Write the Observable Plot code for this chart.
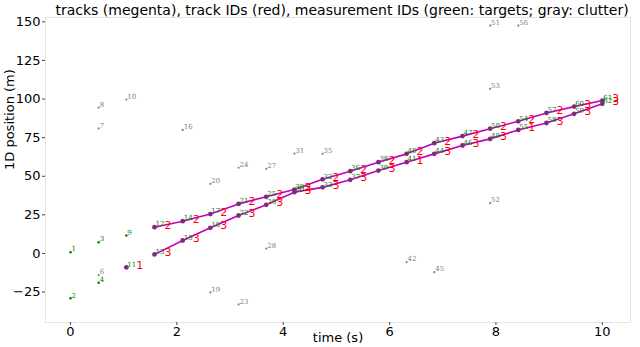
<!DOCTYPE html>
<html><head><meta charset="utf-8">
<script src="https://cdn.jsdelivr.net/npm/d3@7"></script>
<script src="https://cdn.jsdelivr.net/npm/@observablehq/plot@0.6"></script>
<style>body{margin:0;background:#fff}</style>
</head><body><div id="chart"></div>
<script>
const titleText = "tracks (megenta), track IDs (red), measurement IDs (green: targets; gray: clutter)";
const times = [0, 0.53, 1.05, 1.58, 2.11, 2.63, 3.16, 3.68, 4.21, 4.74, 5.26, 5.79, 6.32, 6.84, 7.37, 7.89, 8.42, 8.95, 9.47, 10.0];
const xTicks = [0, 2, 4, 6, 8, 10];
const yTicks = [-25, 0, 25, 50, 75, 100, 125, 150];

// tracks: step index, position, track ID label, measurement ID
const trackUpperStep = [3,4,5,6,7,8,9,10,11,12,13,14,15,16,17,18,19];
const trackUpperPos = [17, 20.9, 25.5, 32.1, 36.7, 41.4, 48.0, 53.3, 59.1, 64.5, 71.4, 76.0, 80.8, 85.6, 91.0, 95.1, 99.0];
const trackUpperIds = ["2","2","2","2","2","2","2","2","2","2","2","2","2","2","2","3","3"];
const trackUpperMeas = ["12","14","17","21","25","29","32","36","38","40","43","47","50","54","57","60","61"];

const trackLowerStep = [3,4,5,6,7,8,9,10,11,12,13,14,15,16,17,18,19];
const trackLowerPos = [-0.6, 8.4, 16.6, 24.6, 31.5, 39.7, 42.8, 47.7, 53.7, 59.1, 64.5, 69.9, 74.2, 80.0, 84.5, 90.4, 96.9];
const trackLowerIds = ["3","3","3","3","3","3","3","3","3","1","3","3","3","1","3","3","3"];
const trackLowerMeas = ["13","15","18","22","26","30","33","37","39","41","44","46","49","55","58","59","62"];

const trackSingleStep = [2];
const trackSinglePos = [-9];
const trackSingleIds = ["1"];
const trackSingleMeas = ["11"];

// other target measurements (green, not on a track)
const targetStep = [0, 0, 1, 1, 2];
const targetPos = [0.8, -29, 7.3, -19, 11.6];
const targetIds = ["1", "2", "3", "4", "9"];

// clutter (gray)
const clutterStep = [1, 1, 1, 2, 4, 5, 5, 6, 6, 7, 7, 8, 9, 12, 13, 15, 15, 15, 16];
const clutterPos = [-14, 81, 94.5, 99.7, 80, -25.2, 45.1, -33, 55.5, 54.8, 3.2, 64.7, 64.5, -5.6, -12.1, 147.6, 32.6, 106.6, 147.6];
const clutterIds = ["6", "7", "8", "10", "16", "19", "20", "23", "24", "27", "28", "31", "35", "42", "45", "51", "52", "53", "56"];

const mk = (steps, pos, ids, meas, track) => steps.map((s, i) => ({t: times[s], y: pos[i], id: ids[i], meas: meas ? meas[i] : null, track}));
const upper = mk(trackUpperStep, trackUpperPos, trackUpperIds, trackUpperMeas, "A");
const lower = mk(trackLowerStep, trackLowerPos, trackLowerIds, trackLowerMeas, "B");
const single = mk(trackSingleStep, trackSinglePos, trackSingleIds, trackSingleMeas, "C");
const tracks = [...upper, ...lower, ...single];
const targets = [...tracks.map(d => ({t: d.t, y: d.y, id: d.meas})), ...targetStep.map((s, i) => ({t: times[s], y: targetPos[i], id: targetIds[i]}))];
const clutter = clutterStep.map((s, i) => ({t: times[s], y: clutterPos[i], id: clutterIds[i]}));

const MAG = "#bf00bf", GRN = "#008000", RED = "#ff0000", GRY = "#808080";

const chart = Plot.plot({
  width: 640, height: 347,
  marginLeft: 45, marginRight: 10, marginTop: 17, marginBottom: 25,
  style: {fontFamily: "DejaVu Sans", fontSize: "13px", background: "#fff"},
  x: {domain: [-0.47, 10.53]},
  y: {domain: [-44.7, 152.8]},
  marks: [
    Plot.frame({stroke: "#e3e3e3"}),
    Plot.axisX({ticks: xTicks, tickSize: 3, tickPadding: 1, label: null, fontSize: 13, stroke: "#444"}),
    Plot.axisY({ticks: yTicks, tickSize: 3, tickPadding: 2, label: null, fontSize: 13, stroke: "#444"}),
    Plot.text([titleText], {frameAnchor: "top", dy: -12, dx: 4, fontSize: 14, fill: "#000"}),
    Plot.text(["time (s)"], {frameAnchor: "bottom", dy: 19, fontSize: 13, fill: "#000"}),
    Plot.text(["1D position (m)"], {frameAnchor: "left", dx: -36, rotate: -90, fontSize: 13, fill: "#000"}),
    Plot.line(tracks, {x: "t", y: "y", z: "track", stroke: MAG, strokeWidth: 1.6}),
    Plot.dot(tracks, {x: "t", y: "y", r: 2.4, fill: MAG, stroke: "none"}),
    Plot.dot(targets, {x: "t", y: "y", r: 1.3, fill: GRN, stroke: "none"}),
    Plot.dot(clutter, {x: "t", y: "y", r: 1.1, fill: GRY, stroke: "none"}),
    Plot.text(targets, {x: "t", y: "y", text: "id", fill: GRN, fontSize: 7, textAnchor: "start", dx: 1, dy: -3, fontFamily: "DejaVu Serif"}),
    Plot.text(clutter, {x: "t", y: "y", text: "id", fill: GRY, fontSize: 7, textAnchor: "start", dx: 1, dy: -3, fontFamily: "DejaVu Serif"}),
    Plot.text(tracks, {x: "t", y: "y", text: "id", fill: RED, fontSize: 11, textAnchor: "start", dx: 10, dy: -2})
  ]
});
document.getElementById("chart").appendChild(chart);
</script>
</body></html>
